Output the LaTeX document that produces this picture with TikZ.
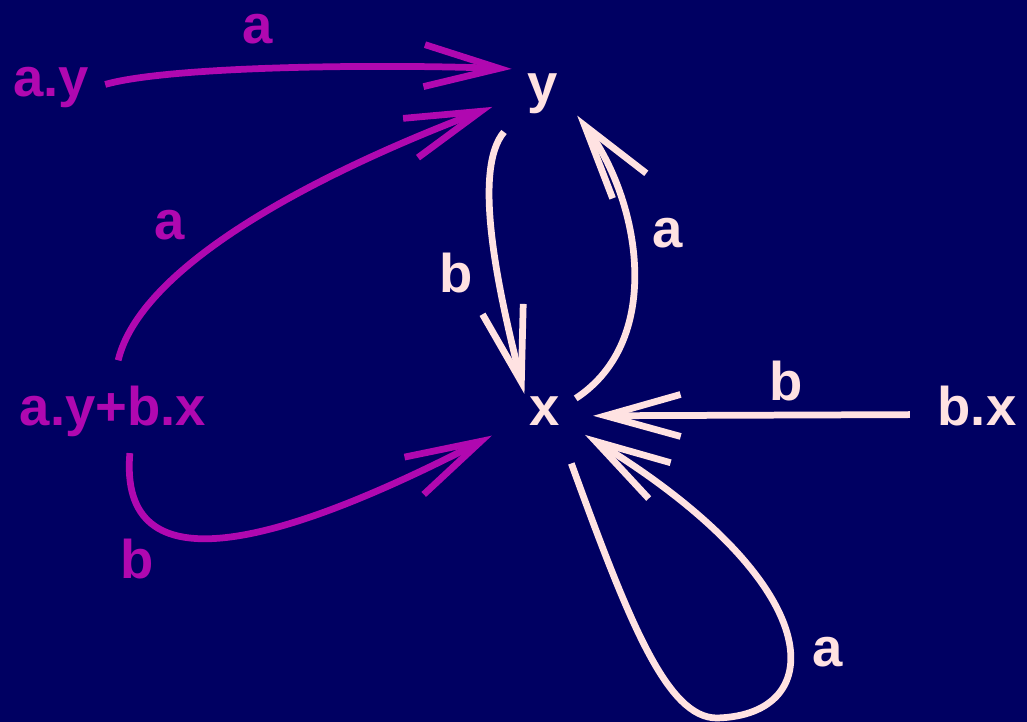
\documentclass[tikz,border=0pt]{standalone}
\usepackage{fontspec}
\setmainfont{Liberation Sans}
\usepackage{xcolor}
\usepackage{tikz}
\usetikzlibrary{arrows.meta}
\definecolor{navy}{RGB}{0,0,98}
\definecolor{plum}{RGB}{176,8,176}
\definecolor{blush}{RGB}{255,226,226}
\newcommand{\lblfont}{\fontsize{31}{36}\selectfont\bfseries}

\begin{document}
\begin{tikzpicture}[x=0.02cm,y=-0.02cm,
  state/.style={circle,minimum size=1.6cm,inner sep=0pt,anchor=base,font=\lblfont},
  term/.style={inner sep=2pt,anchor=base,font=\lblfont},
  lbl/.style={inner sep=0pt,anchor=base,font=\lblfont},
  edge/.style={line width=.135cm,-{Straight Barb[length=1.5cm,width=.84cm]}}]
\fill[navy] (0,0) rectangle (1027,722);
\useasboundingbox (0,0) rectangle (1027,722);

\node[state,text=blush] (y) at (543,103) {y};
\node[state,text=blush] (x) at (545,426) {x};
\node[term,text=plum] (ay) at (51,97) {a.y};
\node[term,text=plum] (ayx) at (113,425) {a.y+b.x};
\node[term,text=blush] (bx) at (977,425) {b.x};

% incoming to y
\draw[edge,plum,shorten <=.26cm] (ay.east) .. controls (170,66) and (380,64) .. (y.141);
\draw[edge,plum,shorten <=.44cm,shorten >=.24cm] (ayx.north)
  .. controls (140,270) and (300,180) .. (y.192);
\draw[edge,plum,shorten <=.26cm,shorten >=.36cm] ([xshift=.36cm]ayx.south)
  .. controls (118,590) and (280,545) .. (x.203);

% between x and y
\draw[edge,blush,shorten <=.28cm,shorten >=-.3cm] (y.222)
  .. controls (472,170) and (498,290) .. (x.127);
\draw[edge,blush,shorten <=-.14cm] (x.25)
  .. controls (665,340) and (640,200) .. (y.328);
\draw[edge,blush,shorten <=.48cm,shorten >=.16cm] ([yshift=-.18cm]bx.west) -- (x.354);
\draw[edge,blush,shorten <=.36cm,shorten >=.12cm] (x.300)
  .. controls (629,622) and (667,718) .. (717,718)
  .. controls (830,715) and (830,585) .. (x.330);

\node[lbl,text=plum] (la1) at (258,44) {a};
\node[lbl,text=plum] (la2) at (170,240) {a};
\node[lbl,text=plum] (lb1) at (137,578) {b};
\node[lbl,text=blush] (lb2) at (456,293) {b};
\node[lbl,text=blush] (la3) at (668,248) {a};
\node[lbl,text=blush] (lb3) at (786,400) {b};
\node[lbl,text=blush] (la4) at (828,666) {a};
\end{tikzpicture}
\end{document}
